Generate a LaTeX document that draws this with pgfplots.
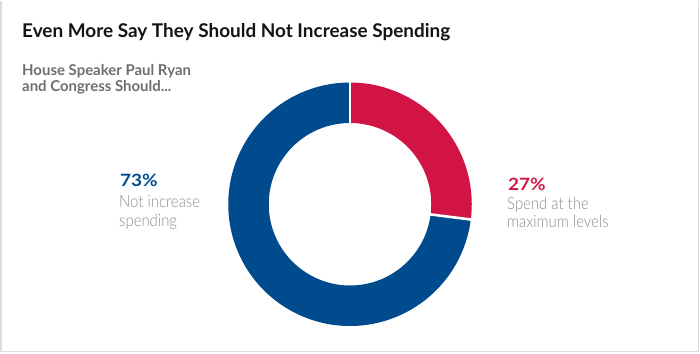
\documentclass[border=0pt]{standalone}
\usepackage{fontspec}
\setmainfont{Lato}
\newfontfamily\lightfont{Lato Light}[FakeStretch=0.88]
\newfontfamily\pctfont{Lato}[FakeStretch=1.12]
\usepackage{pgfplots}
\pgfplotsset{compat=1.18}
\usepackage{pgfplotstable}
\definecolor{cblue}{HTML}{004B8D}
\definecolor{cred}{HTML}{D21445}
\definecolor{subgray}{HTML}{6E6E6E}
\definecolor{labgray}{HTML}{8C8C8C}
\definecolor{bordergray}{HTML}{DCDCDC}
\definecolor{titleblack}{HTML}{141414}
\pgfplotstableread{
label value
spend 27
notincrease 73
}\datatable
\pgfplotstablegetelem{0}{value}\of\datatable
\let\vred\pgfplotsretval
\pgfmathsetmacro\aend{90-3.6*\vred}
\pgfmathsetmacro\gxa{350+79*cos(\aend)}
\pgfmathsetmacro\gya{203.5-79*sin(\aend)}
\pgfmathsetmacro\gxb{350+124*cos(\aend)}
\pgfmathsetmacro\gyb{203.5-124*sin(\aend)}
\begin{document}
\begin{tikzpicture}
\begin{axis}[
  width=700bp, height=353bp, scale only axis,
  xmin=0, xmax=700, ymin=0, ymax=353, y dir=reverse,
  enlargelimits=false, hide axis, clip=false,
]
\path (axis cs:0,0) rectangle (axis cs:700,353);
% border
\draw[bordergray, line width=1.5bp] (axis cs:0.75,0) -- (axis cs:0.75,350.5) -- (axis cs:698.5,350.5) -- (axis cs:698.5,0);
% donut
\addplot[cred, line width=40.5bp, domain=\aend:90, samples=120] ({350+101.5*cos(x)},{203.5-101.5*sin(x)});
\addplot[cblue, line width=40.5bp, domain=-270:\aend, samples=300] ({350+101.5*cos(x)},{203.5-101.5*sin(x)});
\addplot[white, line width=2.6bp] coordinates {(350,124.5) (350,79.5)};
\addplot[white, line width=2.6bp] coordinates {(\gxa,\gya) (\gxb,\gyb)};
% texts
\node[anchor=base west, inner sep=0pt, text=titleblack, font=\bfseries\fontsize{19}{21}\selectfont] at (axis cs:22,37) {Even More Say They Should Not Increase Spending};
\node[anchor=base west, inner sep=0pt, text=subgray, font=\bfseries\fontsize{15}{17}\selectfont] at (axis cs:22,75) {House Speaker Paul Ryan};
\node[anchor=base west, inner sep=0pt, text=subgray, font=\bfseries\fontsize{15}{17}\selectfont] at (axis cs:22,91) {and Congress Should...};
\node[anchor=base west, inner sep=0pt, text=cblue, font=\pctfont\bfseries\fontsize{17}{19}\selectfont] at (axis cs:120,186) {73\%};
\node[anchor=base west, inner sep=0pt, text=labgray, font=\lightfont\fontsize{17}{19}\selectfont] at (axis cs:119,207) {Not increase};
\node[anchor=base west, inner sep=0pt, text=labgray, font=\lightfont\fontsize{17}{19}\selectfont] at (axis cs:119,226) {spending};
\node[anchor=base west, inner sep=0pt, text=cred, font=\pctfont\bfseries\fontsize{17}{19}\selectfont] at (axis cs:508,190) {27\%};
\node[anchor=base west, inner sep=0pt, text=labgray, font=\lightfont\fontsize{17}{19}\selectfont] at (axis cs:507,208.5) {Spend at the};
\node[anchor=base west, inner sep=0pt, text=labgray, font=\lightfont\fontsize{17}{19}\selectfont] at (axis cs:507,227) {maximum levels};
\end{axis}
\end{tikzpicture}
\end{document}
